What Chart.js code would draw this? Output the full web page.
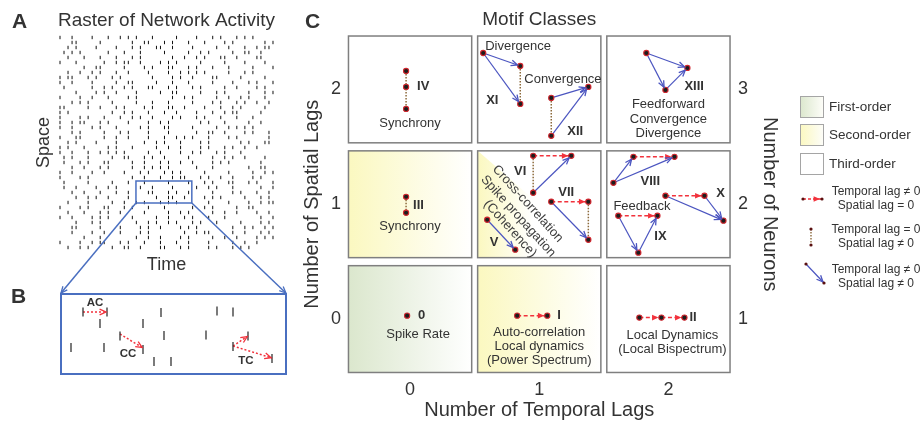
<!DOCTYPE html>
<html>
<head>
<meta charset="utf-8">
<script src="https://cdn.jsdelivr.net/npm/chart.js@4.4.1/dist/chart.umd.min.js"></script>
<style>
body{margin:0;background:#fff;}
#page{position:relative;width:924px;height:428px;overflow:hidden;font-family:'Liberation Sans',Arial,sans-serif;color:#333;}
.tag{position:absolute;font-weight:bold;font-size:21px;line-height:21px;color:#333;}
canvas{position:absolute;}
</style>
</head>
<body>
<div id="page">
<canvas id="raster" width="296" height="300" style="left:0;top:0"></canvas>
<canvas id="zoom" width="296" height="148" style="left:0;top:280px"></canvas>
<canvas id="motifs" width="628" height="428" style="left:296px;top:0"></canvas>
<div class="tag" style="left:12px;top:10px">A</div>
<div class="tag" style="left:11px;top:285px">B</div>
<div class="tag" style="left:305px;top:10px">C</div>
</div>
<script>
// raster of network activity: one string per neuron, x = spike in that time bin
const rasterRows = [
  "x..x....x ...x..x.x .x...x... ..x....x. ..x.x...x .x.x.....",
  "...x x.....x.. .....x..x x...x.x.. .x...x... .x.x..... ..x.x",
  "..x.x.. ..x....x. ..x.x...x x..x....x .....x..x ...x..x.x x.",
  ".x .x.x..... .x...x... x.....x.. ...x..x.x .....x..x x..x...",
  "..x.. .x...x... x...x.x.. .....x..x ..x.x...x x..x....x x...",
  "x...x... ...x..x.x x..x....x .x.x..... x.....x.. ..x....x. .",
  ". .....x..x x.....x.. ..x.x...x x...x.x.. .x...x... ..x....x",
  "..x..x ..x.x...x ..x....x. ...x..x.x .x.x..... x...x.x.. ...",
  "x.x x...x.x.. .x.x..... ..x....x. x..x....x x.....x.. ...x..",
  "x..x....x .....x..x x.....x.. .x...x... ..x....x. ..x.x...x",
  ".x... ...x..x.x ..x.x...x x...x.x.. .x.x..... x..x....x .x..",
  ".. ..x....x. x..x....x .....x..x x.....x.. .x.x..... x...x.x",
  "x....x. .x...x... .x.x..... ...x..x.x .....x..x ..x.x...x ..",
  "...x .x.x..... x.....x.. .x...x... ..x....x. x...x.x.. x..x.",
  "x x.....x.. x...x.x.. ..x.x...x x..x....x ...x..x.x .....x..",
  "x.x..... .....x..x .x...x... x..x....x ...x..x.x x.....x.. .",
  "x.. ..x.x...x ...x..x.x ..x....x. x...x.x.. .x...x... x.....",
  "x..x.x x...x.x.. ..x....x. .x.x..... ..x.x...x .....x..x ...",
  "x..x....x .x...x... ..x.x...x x.....x.. ...x..x.x .x.x.....",
  ".. .x.x..... x...x.x.. ..x....x. .....x..x x..x....x .x...x.",
  "x...x x.....x.. x..x....x ...x..x.x .x...x... .x.x..... ..x.",
  "..x.x.. ..x....x. .....x..x .x...x... .x.x..... ..x.x...x x.",
  "x .x...x... ..x.x...x .....x..x ..x....x. x...x.x.. x..x....",
  "x..x ...x..x.x .x.x..... x..x....x ..x.x...x .x...x... .....",
  ".x.x...x .....x..x x...x.x.. x.....x.. ...x..x.x ..x....x. .",
  ".x. ..x.x...x x.....x.. x...x.x.. x..x....x .x.x..... ..x...",
  "...x.. x...x.x.. ...x..x.x .x.x..... .x...x... .....x..x x..",
  "x..x....x ..x....x. ..x.x...x .x.x..... x.....x.. ...x..x.x",
  "x... .x.x..... .....x..x ...x..x.x x...x.x.. x..x....x .x...",
  ".x..... x.....x.. .x...x... ..x....x. ..x.x...x x...x.x.. .x",
  ".x ..x....x. .x.x..... x..x....x .....x..x .x...x... ...x..x",
  "...x. .x...x... x..x....x x...x.x.. x.....x.. ..x.x...x ..x.",
  ". ...x..x.x ..x....x. .....x..x x..x....x .x.x..... x...x.x.",
  "..x....x .....x..x ..x.x...x .x.x..... ..x....x. ...x..x.x x",
  "x.. ..x.x...x x...x.x.. .x...x... ...x..x.x .....x..x x.....",
  "..x... x...x.x.. x.....x.. ...x..x.x .....x..x ..x....x. .x.",
  "x..x....x .x.x..... x.....x.. x...x.x.. .x...x... .....x..x",
  "....x.. .x.x..... ...x..x.x ..x.x...x .x...x... ..x....x. x.",
  "...x x.....x.. ..x....x. x..x....x .x.x..... ...x..x.x ..x.x",
  ". ..x....x. .x...x... .x.x..... ...x..x.x x.....x.. x...x.x.",
  "..... .x...x... .....x..x ..x....x. x.....x.. x..x....x .x.x",
  "x. ...x..x.x x...x.x.. .x...x... x..x....x .....x..x ..x....",
  "..x..x.x .....x..x x..x....x x...x.x.. ..x.x...x .x.x..... ."
]
// zoomed window (raster units) and where it is blown up (panel B top corners)
const zoomWindow = {t0: 18.9, t1: 32.8, n0: 28.7, n1: 33.1}
const zoomTarget = {t0: 0.25, t1: 56.2, n: 51.1}

// panel B: spikes [time, neuron] inside the zoom window
const zoomSpikes = [[22,18],[46,18],[100,18.5],[156,17],[172,18],[39,29.5],[82,29.5],[59,42],[103,41.5],
  [145,41],[10,53.5],[43,53.5],[82,55.5],[172,52.5],[187,42],[93,67.5],[110,67.5],[211,64.5]]
const zoomLags = [[[22,18],[46,18]],[[59,40],[82,54]],[[172,52],[187,42]],[[172,52],[211,64]]]
const zoomLagNames = [['AC',34,9],['CC',67,60],['TC',185,67]]

// panel C: motif nodes [temporal lag, spatial lag] in lag units
const motifNodes = [
  [-0.031,2.161],[-0.031,2.022],[-0.031,1.830],
  [0.566,2.317],[0.853,2.204],[0.853,1.874],[1.093,1.926],[1.093,1.596],[1.380,2.022],
  [1.829,2.317],[2.147,2.187],[1.977,1.996],
  [-0.031,1.065],[-0.031,0.926],
  [0.953,1.422],[1.248,1.422],[0.953,1.100],[1.093,1.022],[1.380,1.022],[1.380,0.691],[0.597,0.865],[0.814,0.604],
  [1.574,1.187],[1.729,1.413],[2.047,1.413],[1.977,1.074],[2.279,1.074],[2.426,0.857],[1.612,0.900],[1.915,0.900],[1.767,0.578],
  [-0.023,0.030],
  [0.829,0.030],[1.062,0.030],
  [1.775,0.013],[1.946,0.013],[2.124,0.013]
]
const temporalEdges = [[32,33],[34,35],[35,36],[14,15],[17,18],[23,24],[25,26],[28,29]]
const spatialLinks = [[0,2],[4,5],[6,7],[12,13],[14,16],[18,19]]
const mixedEdges = [[3,4],[3,5],[6,8],[7,8],[9,10],[9,11],[11,10],[16,15],[17,19],[20,21],
  [22,23],[22,24],[25,27],[26,27],[28,30],[30,29]]

const lagTicks = [0,1,2]
const neuronTicks = ['1','2','3']
const cellOrders = [['first','second','third'],['second','mixed','third'],['third','third','third']]

const motifLabels = [
  {t:'IV',x:0.054,y:2.022,a:'left',b:1},{t:'Synchrony',x:0,y:1.70},
  {t:'Divergence',x:0.581,y:2.378,a:'left'},{t:'XI',x:0.589,y:1.90,a:'left',b:1},
  {t:'Convergence',x:0.884,y:2.091,a:'left'},{t:'XII',x:1.217,y:1.63,a:'left',b:1},
  {t:'XIII',x:2.124,y:2.03,a:'left',b:1},{t:'Feedforward',x:2.0,y:1.865},{t:'Convergence',x:2.0,y:1.743},{t:'Divergence',x:2.0,y:1.613},
  {t:'III',x:0.023,y:0.987,a:'left',b:1},{t:'Synchrony',x:0,y:0.804},
  {t:'VI',x:0.853,y:1.283,b:1},{t:'VII',x:1.209,y:1.10,b:1},{t:'V',x:0.651,y:0.665,b:1},
  {t:'Cross-correlation',x:0.911,y:1.004,r:48},{t:'Spike propagation',x:0.837,y:0.896,r:48},{t:'(Coherence)',x:0.775,y:0.787,r:48},
  {t:'VIII',x:1.860,y:1.196,b:1},{t:'X',x:2.403,y:1.091,b:1},{t:'Feedback',x:1.574,y:0.978,a:'left'},{t:'IX',x:1.938,y:0.717,b:1},
  {t:'0',x:0.062,y:0.03,a:'left',b:1},{t:'Spike Rate',x:0.062,y:-0.135},
  {t:'I',x:1.140,y:0.03,a:'left',b:1},{t:'Auto-correlation',x:1.0,y:-0.117},{t:'Local dynamics',x:1.0,y:-0.239},{t:'(Power Spectrum)',x:1.0,y:-0.361},
  {t:'II',x:2.163,y:0.013,a:'left',b:1},{t:'Local Dynamics',x:2.031,y:-0.143},{t:'(Local Bispectrum)',x:2.031,y:-0.265}
]

const FONT = "'Liberation Sans', Arial, sans-serif"
Chart.defaults.font.family = FONT
Chart.defaults.color = '#333'
const RED = '#f2323c', BLUE = '#4b55c0', BROWN = '#8c6a3c', ZBLUE = '#4a6fc0'

const arrowHeads = {
  id: 'arrowHeads',
  afterDatasetsDraw(chart) {
    const ctx = chart.ctx
    chart.data.datasets.forEach((ds, i) => {
      if (!ds.head) return
      const pts = chart.getDatasetMeta(i).data
      const p0 = pts[0], p1 = pts[1]
      headAt(ctx, p0.x, p0.y, p1.x, p1.y, ds.head, ds.borderColor, ds.back)
    })
  }
}

function headAt(ctx, x0, y0, x1, y1, kind, color, back) {
  const a = Math.atan2(y1 - y0, x1 - x0)
  const tx = x1 - Math.cos(a) * back, ty = y1 - Math.sin(a) * back
  const len = 7, sp = 0.42
  ctx.save()
  ctx.setLineDash([])
  ctx.strokeStyle = color
  ctx.fillStyle = color
  ctx.lineWidth = 1.3
  ctx.beginPath()
  ctx.moveTo(tx - len * Math.cos(a - sp), ty - len * Math.sin(a - sp))
  ctx.lineTo(tx, ty)
  ctx.lineTo(tx - len * Math.cos(a + sp), ty - len * Math.sin(a + sp))
  if (kind === 'filled') { ctx.closePath(); ctx.fill() } else ctx.stroke()
  ctx.restore()
}

// ---------- panel A ----------
const rasterPoints = []
rasterRows.forEach((row, r) => {
  let c = 0
  for (const ch of row) {
    if (ch === ' ') continue
    if (ch === 'x') rasterPoints.push({x: c, y: r})
    c++
  }
})

const zoomFrame = {
  id: 'zoomFrame',
  afterDraw(chart) {
    const {ctx, scales: {x, y}} = chart
    const l = x.getPixelForValue(zoomWindow.t0), r = x.getPixelForValue(zoomWindow.t1)
    const t = y.getPixelForValue(zoomWindow.n0), b = y.getPixelForValue(zoomWindow.n1)
    ctx.save()
    ctx.strokeStyle = ZBLUE
    ctx.lineWidth = 1.5
    ctx.strokeRect(l, t, r - l, b - t)
    const ty = y.getPixelForValue(zoomTarget.n)
    ;[[l, x.getPixelForValue(zoomTarget.t0)], [r, x.getPixelForValue(zoomTarget.t1)]].forEach(([sx, ex]) => {
      ctx.beginPath()
      ctx.moveTo(sx, b)
      ctx.lineTo(ex, ty)
      ctx.stroke()
      headAt(ctx, sx, b, ex, ty, 'open', ZBLUE, 0)
    })
    ctx.restore()
  }
}

new Chart(document.getElementById('raster'), {
  type: 'scatter',
  data: {datasets: [{data: rasterPoints, pointStyle: 'line', rotation: 90, radius: 1.7, borderColor: '#111', borderWidth: 1}]},
  options: {
    responsive: false, animation: false, events: [],
    layout: {padding: {right: 21}},
    plugins: {
      legend: {display: false}, tooltip: {enabled: false},
      title: {display: true, text: 'Raster of Network Activity', fullSize: false, color: '#333',
        font: {size: 19, weight: 'normal'}, padding: {top: 9, bottom: 3.2}}
    },
    scales: {
      x: {min: -0.5, max: 53.5, ticks: {display: false}, grid: {display: false, drawTicks: false}, border: {display: false},
        title: {display: true, text: 'Time', font: {size: 18}, padding: {top: 0, bottom: 24.2}},
        afterFit: s => { s.height = 50 }},
      y: {min: -0.5, max: 42.5, reverse: true, ticks: {display: false}, grid: {display: false, drawTicks: false}, border: {display: false},
        title: {display: true, text: 'Space', font: {size: 18}, padding: {top: 33.2, bottom: 0}},
        afterFit: s => { s.width = 58 }}
    }
  },
  plugins: [zoomFrame]
})

// ---------- panel B ----------
const zoomBox = {
  id: 'zoomBox',
  afterDraw(chart) {
    const {ctx, chartArea: c, scales: {x, y}} = chart
    ctx.save()
    ctx.strokeStyle = ZBLUE
    ctx.lineWidth = 2
    ctx.strokeRect(c.left, c.top, c.right - c.left, c.bottom - c.top)
    ctx.fillStyle = '#333'
    ctx.font = 'bold 11.5px ' + FONT
    ctx.textAlign = 'center'
    ctx.textBaseline = 'middle'
    zoomLagNames.forEach(([t, tx, ny]) => ctx.fillText(t, x.getPixelForValue(tx), y.getPixelForValue(ny)))
    ctx.restore()
  }
}

new Chart(document.getElementById('zoom'), {
  type: 'scatter',
  data: {datasets: [
    {data: zoomSpikes.map(([x, y]) => ({x, y})), pointStyle: 'line', rotation: 90, radius: 4.5, borderColor: '#333', borderWidth: 1.3},
    ...zoomLags.map(([a, b]) => ({data: [{x: a[0], y: a[1]}, {x: b[0], y: b[1]}], showLine: true, pointRadius: 0,
      borderColor: RED, borderWidth: 1.5, borderDash: [2, 2], head: 'open', back: 1, order: 1}))
  ]},
  options: {
    responsive: false, animation: false, events: [],
    layout: {padding: {left: 61, right: 10, top: 14, bottom: 54}},
    plugins: {legend: {display: false}, tooltip: {enabled: false}},
    scales: {
      x: {display: false, min: 0, max: 225},
      y: {display: false, min: 0, max: 80, reverse: true}
    }
  },
  plugins: [arrowHeads, zoomBox]
})

// ---------- panel C ----------
const fills = {first: '#dbe7cd', second: '#fbf8c0'}

const motifCells = {
  id: 'motifCells',
  beforeDatasetsDraw(chart) {
    const {ctx, scales: {x, y}} = chart
    ctx.save()
    cellOrders.forEach((row, j) => row.forEach((kind, i) => {
      const l = x.getPixelForValue(i - 0.477), r = x.getPixelForValue(i + 0.477)
      const t = y.getPixelForValue(j + 0.465), b = y.getPixelForValue(j - 0.465)
      ctx.fillStyle = '#fff'
      ctx.fillRect(l, t, r - l, b - t)
      if (fills[kind]) {
        const g = ctx.createLinearGradient(l, 0, r, 0)
        g.addColorStop(0, fills[kind])
        g.addColorStop(1, '#ffffff')
        ctx.fillStyle = g
        ctx.fillRect(l, t, r - l, b - t)
      } else if (kind === 'mixed') {
        const g = ctx.createLinearGradient(l, 0, l + (r - l) * 0.45, 0)
        g.addColorStop(0, fills.second)
        g.addColorStop(1, '#ffffff')
        ctx.fillStyle = g
        ctx.beginPath()
        ctx.moveTo(l, t)
        ctx.lineTo(l, b)
        ctx.lineTo(r, b)
        ctx.closePath()
        ctx.fill()
      }
      ctx.strokeStyle = '#7f7f7f'
      ctx.lineWidth = 1.5
      ctx.strokeRect(l, t, r - l, b - t)
    }))
    ctx.restore()
  },
  afterDatasetsDraw(chart) {
    const {ctx, scales: {x, y}} = chart
    ctx.save()
    ctx.fillStyle = '#333'
    ctx.textBaseline = 'middle'
    motifLabels.forEach(m => {
      ctx.font = (m.b ? 'bold 13px ' : '13px ') + FONT
      ctx.textAlign = m.a || 'center'
      const px = x.getPixelForValue(m.x), py = y.getPixelForValue(m.y)
      if (m.r) {
        ctx.save()
        ctx.translate(px, py)
        ctx.rotate(m.r * Math.PI / 180)
        ctx.fillStyle = '#404040'
        ctx.fillText(m.t, 0, 0)
        ctx.restore()
      } else ctx.fillText(m.t, px, py)
    })
    ctx.restore()
  }
}

function dot(ctx, x, y) {
  ctx.beginPath()
  ctx.arc(x, y, 1.6, 0, Math.PI * 2)
  ctx.fillStyle = '#5a1010'
  ctx.fill()
}

const motifLegend = {
  id: 'motifLegend',
  afterDraw(chart) {
    const ctx = chart.ctx
    const L = chart.chartArea.right + 67
    ctx.save()
    const boxes = [['First-order', fills.first, 96], ['Second-order', fills.second, 124], ['Third-order', null, 153]]
    boxes.forEach(([label, col, top]) => {
      if (col) {
        const g = ctx.createLinearGradient(L, 0, L + 23, 0)
        g.addColorStop(0, col)
        g.addColorStop(1, '#fdfdf8')
        ctx.fillStyle = g
      } else ctx.fillStyle = '#fff'
      ctx.fillRect(L, top, 23, 21)
      ctx.strokeStyle = '#a5a5a5'
      ctx.lineWidth = 1
      ctx.strokeRect(L + 0.5, top + 0.5, 23, 21)
      ctx.fillStyle = '#333'
      ctx.font = '13.5px ' + FONT
      ctx.textAlign = 'left'
      ctx.textBaseline = 'middle'
      ctx.fillText(label, L + 29, top + 11)
    })
    // temporal lag
    ctx.strokeStyle = RED
    ctx.lineWidth = 1.4
    ctx.setLineDash([3, 2])
    ctx.beginPath(); ctx.moveTo(L + 3, 199); ctx.lineTo(L + 22, 199); ctx.stroke()
    ctx.setLineDash([])
    headAt(ctx, L + 3, 199, L + 22, 199, 'filled', RED, 2)
    dot(ctx, L + 3, 199); dot(ctx, L + 22, 199)
    // spatial lag
    ctx.strokeStyle = BROWN
    ctx.setLineDash([1.5, 1.5])
    ctx.beginPath(); ctx.moveTo(L + 11, 229); ctx.lineTo(L + 11, 245); ctx.stroke()
    ctx.setLineDash([])
    dot(ctx, L + 11, 229); dot(ctx, L + 11, 245)
    // both
    ctx.strokeStyle = BLUE
    ctx.lineWidth = 1.2
    ctx.beginPath(); ctx.moveTo(L + 6, 264); ctx.lineTo(L + 24, 283); ctx.stroke()
    headAt(ctx, L + 6, 264, L + 24, 283, 'open', BLUE, 1.5)
    dot(ctx, L + 6, 264); dot(ctx, L + 24, 283)
    ctx.fillStyle = '#333'
    ctx.font = '12px ' + FONT
    ctx.textAlign = 'center'
    ctx.textBaseline = 'middle'
    ;[['Temporal lag \u2260 0', 'Spatial lag = 0', 192], ['Temporal lag = 0', 'Spatial lag \u2260 0', 230],
      ['Temporal lag \u2260 0', 'Spatial lag \u2260 0', 270]].forEach(([a, b, yy]) => {
      ctx.fillText(a, L + 76, yy)
      ctx.fillText(b, L + 76, yy + 13.5)
    })
    ctx.restore()
  }
}

const node = i => ({x: motifNodes[i][0], y: motifNodes[i][1]})
const edgeSet = (list, style) => list.map(([a, b]) => Object.assign({data: [node(a), node(b)], showLine: true,
  pointRadius: 0, order: 1, back: 3}, style))

const setTicks = s => { s.ticks = lagTicks.map(v => ({value: v})) }

new Chart(document.getElementById('motifs'), {
  type: 'scatter',
  data: {datasets: [
    {data: motifNodes.map((p, i) => node(i)), pointRadius: 2.6, backgroundColor: '#1d1d1d', borderColor: '#d0262e', borderWidth: 1.1, order: 0},
    ...edgeSet(temporalEdges, {borderColor: RED, borderWidth: 1.5, borderDash: [4, 2.5], head: 'filled'}),
    ...edgeSet(spatialLinks, {borderColor: BROWN, borderWidth: 1.5, borderDash: [1.5, 1.5]}),
    ...edgeSet(mixedEdges, {borderColor: BLUE, borderWidth: 1.2, head: 'open'})
  ]},
  options: {
    responsive: false, animation: false, events: [],
    layout: {padding: {right: 134}},
    plugins: {
      legend: {display: false}, tooltip: {enabled: false},
      title: {display: true, text: 'Motif Classes', fullSize: false, color: '#333',
        font: {size: 19, weight: 'normal'}, padding: {top: 8.6, bottom: 0.6}}
    },
    scales: {
      x: {min: -0.5, max: 2.5, afterBuildTicks: setTicks,
        ticks: {font: {size: 18}, padding: 3, maxRotation: 0}, grid: {display: false, drawTicks: false}, border: {display: false},
        title: {display: true, text: 'Number of Temporal Lags', font: {size: 20}, padding: {top: 0, bottom: 6}},
        afterFit: s => { s.height = 51.5 }},
      y: {min: -0.5, max: 2.5, position: 'left', afterBuildTicks: setTicks,
        ticks: {font: {size: 18}, padding: 4.5}, grid: {display: false, drawTicks: false}, border: {display: false},
        title: {display: true, text: 'Number of Spatial Lags', font: {size: 20}, padding: {top: 4.6, bottom: 0}},
        afterFit: s => { s.width = 49.5 }},
      y2: {min: -0.5, max: 2.5, position: 'right', afterBuildTicks: setTicks,
        ticks: {font: {size: 18}, padding: 5, callback: v => neuronTicks[lagTicks.indexOf(v)]},
        grid: {display: false, drawTicks: false}, border: {display: false},
        title: {display: true, text: 'Number of Neurons', font: {size: 20}, padding: {top: 8, bottom: 0}},
        afterFit: s => { s.width = 57 }}
    }
  },
  plugins: [motifCells, arrowHeads, motifLegend]
})
</script>
</body>
</html>
